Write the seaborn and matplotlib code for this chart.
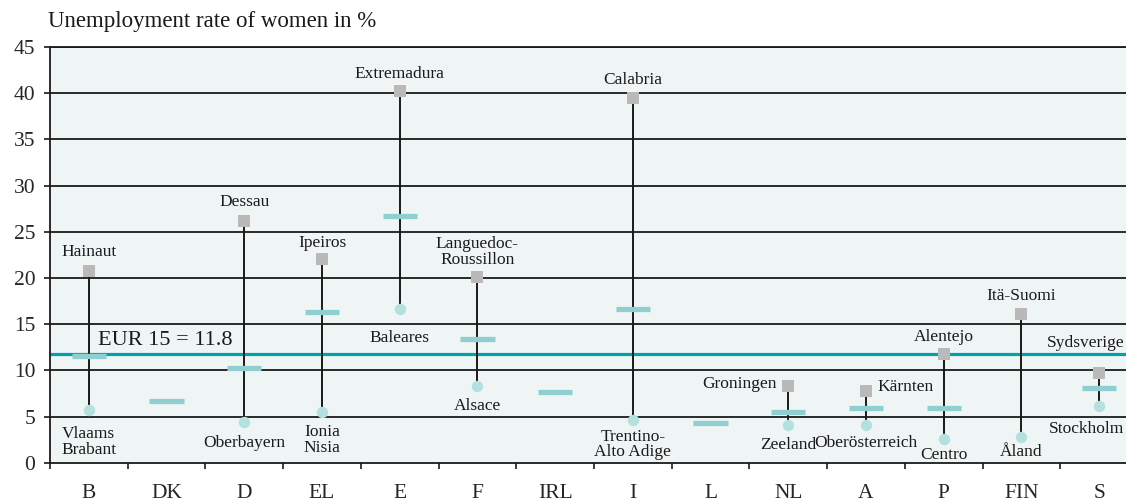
import numpy as np
import pandas as pd
import matplotlib
matplotlib.use("Agg")
import matplotlib.pyplot as plt
import seaborn as sns

nan = np.nan

# Female unemployment rate (%) by member state: highest region, lowest region, national
countries = ["B", "DK", "D", "EL", "E", "F", "IRL", "I", "L", "NL", "A", "P", "FIN", "S"]
highest = [20.8, nan, 26.2, 22.0, 40.2, 20.1, nan, 39.5, nan, 8.3, 7.8, 11.8, 16.1, 9.7]
lowest = [5.7, nan, 4.45, 5.5, 16.6, 8.25, nan, 4.67, nan, 4.05, 4.05, 2.55, 2.8, 6.1]
national = [11.6, 6.7, 10.3, 16.3, 26.7, 13.4, 7.6, 16.6, 4.3, 5.5, 5.9, 5.9, nan, 8.05]
highest_region = ["Hainaut", "", "Dessau", "Ipeiros", "Extremadura", "Languedoc-\nRoussillon",
                  "", "Calabria", "", "Groningen", "Kärnten", "Alentejo", "Itä-Suomi", "Sydsverige"]
lowest_region = ["Vlaams\nBrabant", "", "Oberbayern", "Ionia\nNisia", "Baleares", "Alsace",
                 "", "Trentino-\nAlto Adige", "", "Zeeland", "Oberösterreich", "Centro", "Åland",
                 "Stockholm"]
eu_average = 11.8
y_ticks = [0, 5, 10, 15, 20, 25, 30, 35, 40, 45]

# label placement relative to the marker, in pixels (dx, dy, ha)
high_offsets = {"Groningen": (-12, 2, "right"), "Kärnten": (11, 4, "left"),
                "Sydsverige": (25, 30, "right")}
low_offsets = {"Stockholm": (25, -23, "right")}

df = pd.DataFrame({"country": countries, "highest": highest, "lowest": lowest,
                   "national": national})

GREY = "#b9b9b9"
CIRCLE = "#b4e0e0"
DASH = "#8fcfcf"
TEAL = "#00a3ad"
BG = "#eff5f5"

sns.set_style("white")
plt.rcParams["font.family"] = ["Liberation Serif", "DejaVu Serif"]
plt.rcParams["text.color"] = "#1a1a1a"

fig = plt.figure(figsize=(11.26, 5.03), dpi=100)
ax = fig.add_axes([50 / 1126, 1 - 462.7 / 503, (1138 - 50) / 1126, (462.7 - 47) / 503])
ax.set_facecolor(BG)

pos = np.arange(len(countries))

# horizontal grid
for v in y_ticks[1:]:
    ax.axhline(v, color="#1a1a1a", lw=1.3, zorder=1)

# EU-15 average
ax.axhline(eu_average, color=TEAL, lw=2.3, zorder=2)
ax.text(0.12, eu_average + 0.45, f"EUR 15 = {eu_average}", fontsize=16, ha="left",
        va="bottom", zorder=6)

# range between lowest and highest region
ax.vlines(pos, df["lowest"], df["highest"], color="#1a1a1a", lw=1.4, zorder=3)

# national rates
ax.hlines(df["national"], pos - 0.22, pos + 0.22, color=DASH, lw=3.8, zorder=3)

sns.stripplot(data=df, x="country", y="highest", order=countries, jitter=False,
              marker="s", size=8.6, color=GREY, linewidth=0, zorder=4, ax=ax)
sns.stripplot(data=df, x="country", y="lowest", order=countries, jitter=False,
              marker="o", size=8.2, color=CIRCLE, linewidth=0, zorder=4, ax=ax)

above_dy = {"Hainaut": 19, "Dessau": 19, "Ipeiros": 16, "Extremadura": 17,
            "Languedoc-\nRoussillon": 25, "Calabria": 18, "Alentejo": 17,
            "Itä-Suomi": 18}
below_dy = {"Vlaams\nBrabant": -32, "Oberbayern": -21, "Ionia\nNisia": -28,
            "Baleares": -29, "Alsace": -20, "Trentino-\nAlto Adige": -25,
            "Zeeland": -20, "Oberösterreich": -18, "Centro": -16, "Åland": -15}

for i, name in enumerate(highest_region):
    if not name:
        continue
    dx, dy, ha = high_offsets.get(name, (0, above_dy.get(name, 18), "center"))
    ax.annotate(name, (pos[i], highest[i]), xytext=(dx, dy), textcoords="offset pixels",
                ha=ha, va="center", fontsize=12.5, linespacing=0.95, zorder=6)

for i, name in enumerate(lowest_region):
    if not name:
        continue
    dx, dy, ha = low_offsets.get(name, (0, below_dy.get(name, -20), "center"))
    ax.annotate(name, (pos[i], lowest[i]), xytext=(dx, dy), textcoords="offset pixels",
                ha=ha, va="center", fontsize=12.5, linespacing=0.95, zorder=6)

ax.set_xlim(-0.5, len(countries) - 0.5)
ax.set_ylim(0, 45)
ax.set_xlabel("")
ax.set_ylabel("")
ax.set_yticks(y_ticks)
ax.set_yticklabels([str(v) for v in y_ticks])
ax.set_xticks(pos)
ax.set_xticklabels(countries)
ax.set_xticks(np.arange(-0.5, len(countries), 1), minor=True)
ax.tick_params(axis="x", which="major", length=0, pad=15, labelsize=15.5)
ax.tick_params(axis="x", which="minor", length=4.5, width=1.2, direction="out",
               color="#1a1a1a", bottom=True)
ax.tick_params(axis="y", which="major", length=4.5, width=1.2, direction="out",
               color="#1a1a1a", pad=6, labelsize=15.5, left=True)

for side in ["left", "bottom", "top"]:
    ax.spines[side].set_visible(True)
    ax.spines[side].set_color("#1a1a1a")
    ax.spines[side].set_linewidth(1.3)
ax.spines["right"].set_visible(False)

fig.text(48 / 1126, 1 - 22 / 503, "Unemployment rate of women in %", fontsize=16.5,
         ha="left", va="center")

fig.savefig("out.png", dpi=100)
